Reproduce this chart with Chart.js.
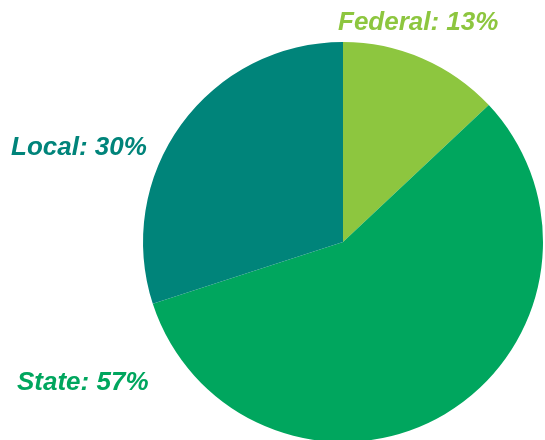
<!DOCTYPE html>
<html>
<head>
<meta charset="utf-8">
<script src="https://cdn.jsdelivr.net/npm/chart.js@4"></script>
<style>
    html, body { margin: 0; padding: 0; background: #fff; overflow: hidden; }
    #wrap { width: 545px; height: 444px; }
</style>
</head>
<body>
<div id="wrap"><canvas id="pieChart" width="545" height="444"></canvas></div>
<script>
const categories = ['Federal', 'State', 'Local'];
const shares = [13, 57, 30];
const colors = ['#8dc63f', '#00a65e', '#00847a'];

// where each label sits on the page (left edge, baseline)
const labelSpots = [[338, 30], [17, 390], [11, 155]];

const outsideLabels = {
    id: 'outsideLabels',
    afterDraw(chart) {
        const ctx = chart.ctx;
        ctx.save();
        ctx.font = 'italic bold 26px "Liberation Sans", Arial, sans-serif';
        ctx.textAlign = 'left';
        ctx.textBaseline = 'alphabetic';
        categories.forEach((name, i) => {
            ctx.fillStyle = colors[i];
            ctx.fillText(`${name}: ${shares[i]}%`, labelSpots[i][0], labelSpots[i][1]);
        });
        ctx.restore();
    }
};

new Chart(document.getElementById('pieChart').getContext('2d'), {
    type: 'pie',
    data: {
        labels: categories,
        datasets: [{
            data: shares,
            backgroundColor: colors,
            borderWidth: 0
        }]
    },
    options: {
        responsive: false,
        animation: false,
        layout: { padding: { left: 143, right: 2, top: 42, bottom: 2 } },
        plugins: {
            legend: { display: false },
            tooltip: { enabled: false }
        }
    },
    plugins: [outsideLabels]
});
</script>
</body>
</html>
